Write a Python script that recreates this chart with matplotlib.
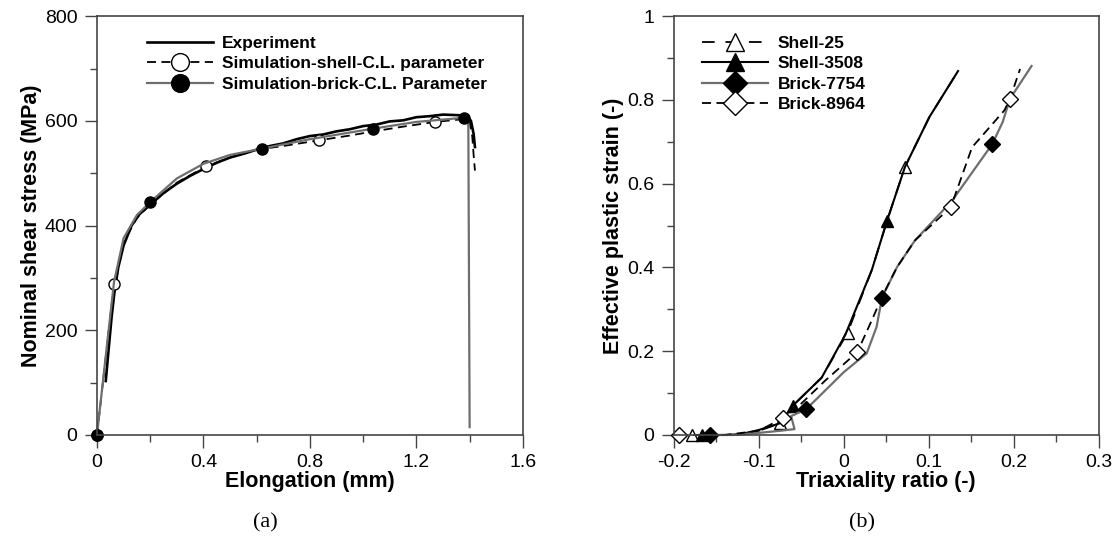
import matplotlib
matplotlib.use('Agg')
import matplotlib.pyplot as plt
from matplotlib.ticker import MultipleLocator

plt.rcParams['font.family'] = ['Liberation Sans', 'DejaVu Sans']

# ---- panel (a): shear test ----
exp_x = [0.033, 0.045, 0.055, 0.065, 0.08, 0.1, 0.13, 0.16, 0.2, 0.25, 0.3, 0.35, 0.4, 0.45,
         0.5, 0.55, 0.6, 0.65, 0.7, 0.75, 0.8, 0.85, 0.9, 0.95, 1.0, 1.05, 1.1, 1.15, 1.2,
         1.25, 1.3, 1.35, 1.39, 1.405, 1.415, 1.42]
exp_y = [103, 170, 225, 270, 320, 362, 400, 422, 440, 462, 480, 495, 508, 520,
         530, 537, 545, 552, 557, 565, 571, 574, 580, 584, 590, 593, 599, 601, 607,
         609, 612, 611, 610, 600, 575, 550]

shell_x = [0.0, 0.064, 0.1, 0.15, 0.2, 0.3, 0.41, 0.5, 0.6, 0.7, 0.836, 0.95, 1.04, 1.15,
           1.27, 1.39, 1.40, 1.41, 1.415, 1.42]
shell_y = [0, 288, 368, 415, 440, 482, 513, 530, 545, 552, 563, 572, 580, 589,
           598, 604, 598, 570, 535, 505]
shell_marks = [0, 1, 6, 10, 14]

brick_x = [0.0, 0.064, 0.1, 0.15, 0.2, 0.3, 0.4, 0.5, 0.62, 0.8, 1.036, 1.2, 1.38, 1.395, 1.40]
brick_y = [0, 292, 376, 420, 445, 490, 518, 535, 547, 565, 585, 598, 606, 610, 15]
brick_marks = [0, 4, 8, 10, 12]

# ---- panel (b): failure strain vs triaxiality ----
s25_x = [-0.179, -0.15, -0.13, -0.1, -0.0746, -0.06, -0.026, 0.0044, 0.033, 0.051, 0.072, 0.1007, 0.1345]
s25_y = [0.0, 0.0, 0.0, 0.01, 0.028, 0.07, 0.137, 0.244, 0.394, 0.512, 0.64, 0.759, 0.869]
s25_marks = [0, 4, 7, 10]

s3508_x = [-0.167, -0.14, -0.12, -0.1, -0.075, -0.06, -0.026, 0.002, 0.033, 0.051, 0.072, 0.1007, 0.1345]
s3508_y = [0.0, 0.0, 0.002, 0.012, 0.028, 0.07, 0.137, 0.24, 0.394, 0.512, 0.64, 0.759, 0.869]
s3508_marks = [0, 5, 9]

b7754_x = [-0.157, -0.13, -0.1, -0.075, -0.058, -0.062, -0.044, 0.0, 0.027, 0.0386, 0.045, 0.0627,
           0.0838, 0.1277, 0.1746, 0.187, 0.1957, 0.221]
b7754_y = [0.0, 0.0, 0.005, 0.01, 0.014, 0.045, 0.062, 0.15, 0.195, 0.258, 0.328, 0.401,
           0.4646, 0.56, 0.694, 0.747, 0.803, 0.881]
b7754_marks = [0, 6, 10, 14]

b8964_x = [-0.194, -0.14, -0.1, -0.072, -0.05, -0.0218, 0.016, 0.033, 0.045, 0.0627, 0.0838,
           0.126, 0.151, 0.189, 0.1957, 0.2075]
b8964_y = [0.0, 0.0, 0.01, 0.04, 0.075, 0.13, 0.198, 0.274, 0.33, 0.401, 0.4646,
           0.544, 0.687, 0.775, 0.803, 0.874]
b8964_marks = [0, 3, 6, 11, 14]

GRAY = '#6e6e6e'
FRAME = '#454545'

fig = plt.figure(figsize=(11.12, 5.39), dpi=100)
ax1 = fig.add_axes([0.0872, 0.193, 0.383, 0.777])
ax2 = fig.add_axes([0.606, 0.193, 0.382, 0.777])

ax1.plot(exp_x, exp_y, color='black', lw=1.9, label='Experiment')
ax1.plot(shell_x, shell_y, color='black', lw=1.3, ls=(0, (5, 3)), marker='o', ms=8,
         mfc='white', mec='black', markevery=shell_marks, label='Simulation-shell-C.L. parameter')
ax1.plot(brick_x, brick_y, color=GRAY, lw=1.6, marker='o', ms=8, mfc='black', mec='black',
         markevery=brick_marks, label='Simulation-brick-C.L. Parameter')

ax1.set_xlim(0, 1.6)
ax1.set_ylim(0, 800)
ax1.set_xticks([0, 0.4, 0.8, 1.2, 1.6])
ax1.set_xticklabels(['0', '0.4', '0.8', '1.2', '1.6'])
ax1.xaxis.set_minor_locator(MultipleLocator(0.2))
ax1.yaxis.set_major_locator(MultipleLocator(200))
ax1.yaxis.set_minor_locator(MultipleLocator(100))
ax1.set_xlabel('Elongation (mm)', fontsize=15.5, fontweight='bold', labelpad=0)
ax1.set_ylabel('Nominal shear stress (MPa)', fontsize=15.5, fontweight='bold', labelpad=2)
ax1.legend(loc='upper left', bbox_to_anchor=(0.08, 0.99), frameon=False, handlelength=3.8,
           handletextpad=0.55, labelspacing=0.3, markerscale=1.6,
           prop={'weight': 'bold', 'size': 12.5})

ax2.plot(s25_x, s25_y, color='black', lw=1.3, ls=(0, (7, 6)), marker='^', ms=9,
         mfc='white', mec='black', markevery=s25_marks, label='Shell-25')
ax2.plot(s3508_x, s3508_y, color='black', lw=1.5, marker='^', ms=9, mfc='black', mec='black',
         markevery=s3508_marks, label='Shell-3508')
ax2.plot(b7754_x, b7754_y, color=GRAY, lw=1.6, marker='D', ms=8, mfc='black', mec='black',
         markevery=b7754_marks, label='Brick-7754')
ax2.plot(b8964_x, b8964_y, color='black', lw=1.3, ls=(0, (5, 3)), marker='D', ms=8,
         mfc='white', mec='black', markevery=b8964_marks, label='Brick-8964')

ax2.set_xlim(-0.2, 0.3)
ax2.set_ylim(0, 1)
ax2.set_xticks([-0.2, -0.1, 0, 0.1, 0.2, 0.3])
ax2.set_xticklabels(['-0.2', '-0.1', '0', '0.1', '0.2', '0.3'])
ax2.xaxis.set_minor_locator(MultipleLocator(0.05))
ax2.set_yticks([0, 0.2, 0.4, 0.6, 0.8, 1.0])
ax2.set_yticklabels(['0', '0.2', '0.4', '0.6', '0.8', '1'])
ax2.yaxis.set_minor_locator(MultipleLocator(0.1))
ax2.set_xlabel('Triaxiality ratio (-)', fontsize=15.5, fontweight='bold', labelpad=0)
ax2.set_ylabel('Effective plastic strain (-)', fontsize=15.5, fontweight='bold', labelpad=2)
ax2.legend(loc='upper left', bbox_to_anchor=(0.03, 0.99), frameon=False, handlelength=3.8,
           handletextpad=0.55, labelspacing=0.3, markerscale=1.5,
           prop={'weight': 'bold', 'size': 12.5})

for ax in (ax1, ax2):
    for sp in ax.spines.values():
        sp.set_color(FRAME)
        sp.set_linewidth(1.2)
    ax.tick_params(which='major', direction='out', length=9, width=1, color=FRAME,
                   labelsize=14, pad=5)
    ax.tick_params(which='minor', direction='out', length=5, width=1, color=FRAME)
    for c in ax.get_lines():
        c.set_clip_on(False)

fig.text(0.239, 0.022, '(a)', fontsize=16, family='Liberation Serif', ha='center')
fig.text(0.775, 0.022, '(b)', fontsize=16, family='Liberation Serif', ha='center')

fig.savefig('out.png', dpi=100)
